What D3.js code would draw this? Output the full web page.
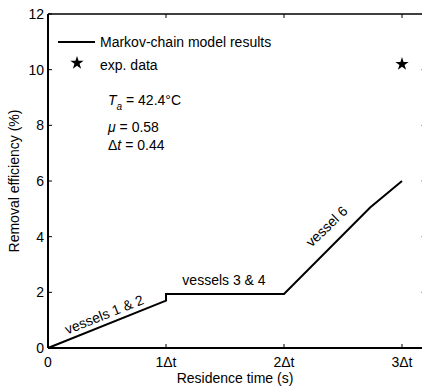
<!DOCTYPE html>
<html><head><meta charset="utf-8">
<script src="https://cdn.jsdelivr.net/npm/d3@7"></script>
<style>
html,body{margin:0;padding:0;background:#fff;}
svg text{font-family:"Liberation Sans",Arial,sans-serif;fill:#000;}
</style></head>
<body>
<svg id="chart" width="422" height="390"></svg>
<script>
// ---- data ----
const modelX = [0, 1, 1, 2, 2.73, 3];
const modelY = [0, 1.70, 1.94, 1.94, 5.05, 6.0];
const expX = [3];
const expY = [10.2];
const xTicks = [0, 1, 2, 3];
const xTickLabels = ["0", "1\u0394t", "2\u0394t", "3\u0394t"];
const yTicks = [0, 2, 4, 6, 8, 10, 12];
const legendLabels = ["Markov-chain model results", "exp. data"];
const segmentLabels = ["vessels 1 & 2", "vessels 3 & 4", "vessel 6"];

const svg = d3.select("#chart");
const x = d3.scaleLinear().domain([0, 3.2]).range([48, 425.6]);
const y = d3.scaleLinear().domain([0, 12]).range([348, 14]);
const fs = 14;

// axes box
const g = svg.append("g");
g.append("line").attr("x1", x(0)).attr("x2", x(0)).attr("y1", y(0)).attr("y2", y(12)).attr("stroke", "#000").attr("stroke-width", 2);
g.append("line").attr("x1", x(0)).attr("x2", x(3.2)).attr("y1", y(0)).attr("y2", y(0)).attr("stroke", "#000").attr("stroke-width", 2);
g.append("line").attr("x1", x(0)).attr("x2", x(3.2)).attr("y1", y(12)).attr("y2", y(12)).attr("stroke", "#000").attr("stroke-width", 1.5);
g.append("line").attr("x1", x(3.2)).attr("x2", x(3.2)).attr("y1", y(0)).attr("y2", y(12)).attr("stroke", "#000").attr("stroke-width", 1.5);

// ticks (inward)
const tl = 4;
yTicks.forEach(v => {
  g.append("line").attr("x1", x(0)).attr("x2", x(0) + tl).attr("y1", y(v)).attr("y2", y(v)).attr("stroke", "#000").attr("stroke-width", 1);
  g.append("line").attr("x1", x(3.2)).attr("x2", x(3.2) - tl).attr("y1", y(v)).attr("y2", y(v)).attr("stroke", "#000").attr("stroke-width", 1);
  g.append("text").attr("x", x(0) - 4).attr("y", y(v)).attr("dy", "0.35em").attr("text-anchor", "end").attr("font-size", fs).text(v);
});
xTicks.forEach((v, i) => {
  g.append("line").attr("x1", x(v)).attr("x2", x(v)).attr("y1", y(0)).attr("y2", y(0) - tl).attr("stroke", "#000").attr("stroke-width", 1);
  g.append("line").attr("x1", x(v)).attr("x2", x(v)).attr("y1", y(12)).attr("y2", y(12) + tl).attr("stroke", "#000").attr("stroke-width", 1);
  g.append("text").attr("x", x(v)).attr("y", 367).attr("text-anchor", "middle").attr("font-size", fs).text(xTickLabels[i]);
});

// axis titles
g.append("text").attr("x", 235).attr("y", 383).attr("text-anchor", "middle").attr("font-size", fs).text("Residence time (s)");
g.append("text").attr("transform", "translate(19," + ((y(0) + y(12)) / 2) + ") rotate(-90)")
  .attr("text-anchor", "middle").attr("font-size", fs).text("Removal efficiency (%)");

// model line
const pts = modelX.map((d, i) => [d, modelY[i]]);
svg.append("path").datum(pts)
  .attr("d", d3.line().x(d => x(d[0])).y(d => y(d[1])))
  .attr("fill", "none").attr("stroke", "#000").attr("stroke-width", 2);

// exp data
const star = d3.symbol().type(d3.symbolStar).size(55);
expX.forEach((d, i) => {
  svg.append("path").attr("d", star()).attr("transform", "translate(" + x(d) + "," + y(expY[i]) + ")").attr("fill", "#000");
});

// legend
svg.append("line").attr("x1", 58).attr("x2", 95).attr("y1", 42).attr("y2", 42).attr("stroke", "#000").attr("stroke-width", 2);
svg.append("text").attr("x", 100).attr("y", 42).attr("dy", "0.35em").attr("font-size", fs).text(legendLabels[0]);
svg.append("path").attr("d", star()).attr("transform", "translate(77,63)").attr("fill", "#000");
svg.append("text").attr("x", 100).attr("y", 65).attr("dy", "0.35em").attr("font-size", fs).text(legendLabels[1]);

// parameters
const t1 = svg.append("text").attr("x", 108).attr("y", 105).attr("font-size", fs);
t1.append("tspan").attr("font-style", "italic").text("T");
t1.append("tspan").attr("font-style", "italic").attr("font-size", 10).attr("dy", 5).text("a");
t1.append("tspan").attr("dy", -5).text(" = 42.4\u00B0C");
const t2 = svg.append("text").attr("x", 108).attr("y", 132).attr("font-size", fs);
t2.append("tspan").attr("font-style", "italic").text("\u03BC");
t2.append("tspan").text(" = 0.58");
const t3 = svg.append("text").attr("x", 108).attr("y", 150).attr("font-size", fs);
t3.append("tspan").text("\u0394");
t3.append("tspan").attr("font-style", "italic").text("t");
t3.append("tspan").text(" = 0.44");

// segment labels
const ang1 = -Math.atan2(y(0) - y(1.70), x(1) - x(0)) * 180 / Math.PI;
svg.append("text").attr("transform", "translate(106,319) rotate(" + ang1 + ")")
  .attr("text-anchor", "middle").attr("font-size", fs).text(segmentLabels[0]);
svg.append("text").attr("x", 224).attr("y", 285).attr("text-anchor", "middle").attr("font-size", fs).text(segmentLabels[1]);
svg.append("text").attr("transform", "translate(330,230) rotate(-44)")
  .attr("text-anchor", "middle").attr("font-size", fs).text(segmentLabels[2]);
</script>
</body></html>
